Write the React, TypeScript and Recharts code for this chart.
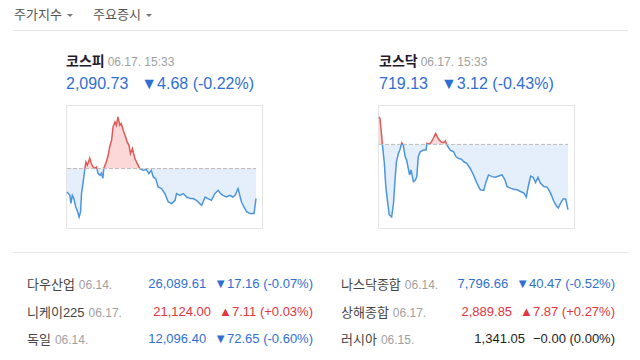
import { AreaChart, Area, XAxis, YAxis, ReferenceLine } from "recharts"

// 장중 차트 (분 단위, 09:00 = 0)
const kospiMinutes = [0, 6, 8, 11, 14, 18, 21, 25, 28, 30, 33, 37, 39, 42, 47, 50, 54, 57, 61, 64, 68, 71, 74, 76, 81, 85, 88, 92, 95, 99, 102, 105, 109, 112, 116, 121, 124, 128, 131, 135, 140, 145, 150, 157, 164, 169, 174, 178, 183, 188, 195, 202, 209, 216, 223, 226, 233, 240, 247, 254, 260, 267, 274, 278, 285, 291, 298, 305, 312, 317, 322, 329, 336, 342, 347, 353, 360, 365, 371, 378, 386, 390]
const kospiPrices = [2091.72, 2091.2, 2089.94, 2091.2, 2090.73, 2089.36, 2088.84, 2087.78, 2088.57, 2091.52, 2093.09, 2095.46, 2096.45, 2095.93, 2097.03, 2096.25, 2095.66, 2095.46, 2095.66, 2094.67, 2094.35, 2094.67, 2093.88, 2095.46, 2096.45, 2097.51, 2098.81, 2099.87, 2101.97, 2102.75, 2102.23, 2103.54, 2102.23, 2102.5, 2101.45, 2100.39, 2099.6, 2099.08, 2097.77, 2098.56, 2096.99, 2096.2, 2095.41, 2095.14, 2095.25, 2094.62, 2095.14, 2094.09, 2093.83, 2092.51, 2092.26, 2091.47, 2090.15, 2089.89, 2090.41, 2091.47, 2091.2, 2091.47, 2090.93, 2090.68, 2090.68, 2090.41, 2089.89, 2089.63, 2090.93, 2090.68, 2090.41, 2091.47, 2091.99, 2091.47, 2091.2, 2090.93, 2091.2, 2090.93, 2091.2, 2092.26, 2090.15, 2089.36, 2088.57, 2088.32, 2088.32, 2090.73]
const kospiPrevClose = 2095.41

const kosdaqMinutes = [0, 2, 5, 7, 11, 14, 18, 21, 26, 30, 33, 36, 40, 43, 47, 50, 54, 57, 61, 63, 66, 69, 71, 75, 78, 81, 85, 92, 97, 99, 104, 108, 112, 117, 123, 128, 133, 137, 140, 147, 154, 159, 164, 170, 175, 181, 188, 195, 202, 209, 216, 221, 226, 233, 240, 247, 254, 260, 264, 271, 278, 285, 292, 299, 304, 308, 313, 318, 323, 328, 333, 340, 347, 354, 361, 366, 370, 375, 380, 385, 390]
const kosdaqPrices = [723.56, 723.49, 722.77, 722.25, 721.35, 720.24, 719.45, 718.89, 718.78, 719.45, 720.55, 721.42, 721.82, 721.98, 722.33, 722.22, 721.66, 721.5, 721.03, 720.79, 721.03, 720.71, 720.47, 720.55, 720.71, 721.66, 721.9, 721.98, 721.98, 722.3, 722.26, 722.37, 722.54, 722.77, 722.49, 722.37, 722.33, 722.42, 722.22, 721.98, 721.9, 721.66, 721.58, 721.54, 721.42, 721.35, 721.11, 720.79, 720.4, 720.08, 720.05, 720.47, 720.79, 720.71, 720.68, 720.74, 720.79, 720.55, 720.24, 720.16, 720.11, 720.08, 720.0, 719.92, 719.73, 720.24, 720.74, 720.68, 720.43, 720.68, 720.4, 720.24, 720.21, 719.92, 719.52, 719.32, 719.21, 719.45, 719.64, 719.64, 719.13]
const kosdaqPrevClose = 722.25

// 해외 지수
const worldNames = ["다우산업", "니케이225", "독일", "나스닥종합", "상해종합", "러시아"]
const worldDates = ["06.14.", "06.17.", "06.14.", "06.14.", "06.17.", "06.15."]
const worldValues = ["26,089.61", "21,124.00", "12,096.40", "7,796.66", "2,889.85", "1,341.05"]
const worldChanges = ["▼17.16 (-0.07%)", "▲7.11 (+0.03%)", "▼72.65 (-0.60%)", "▼40.47 (-0.52%)", "▲7.87 (+0.27%)", "−0.00 (0.00%)"]

const BLUE = "#2f6fd3"
const RED = "#e3353d"
const FONT = '"Liberation Sans", Arial, "Noto Sans CJK KR", sans-serif'

function trendColor(change: string) {
  if (change.startsWith("▼")) return BLUE
  if (change.startsWith("▲")) return RED
  return "#222"
}

function MiniChart({ id, minutes, prices, prevClose, left }: { id: string; minutes: number[]; prices: number[]; prevClose: number; left: number }) {
  const data = minutes.map((t, i) => ({ t, v: prices[i] }))
  const max = Math.max(...prices)
  const min = Math.min(...prices)
  const off = (max - prevClose) / (max - min)

  return (
    <>
      <div style={{ position: "absolute", left, top: 105, width: 197, height: 124, border: "1px solid #e4e4e4", boxSizing: "border-box" }} />
      <div style={{ position: "absolute", left, top: 105 }}>
        <AreaChart width={197} height={124} data={data} margin={{ top: 12, right: 7, bottom: 12, left: 1 }}>
          <defs>
            <linearGradient id={`s-${id}`} x1="0" y1="0" x2="0" y2="1">
              <stop offset={off} stopColor="#de5b57" />
              <stop offset={off} stopColor="#4b95dd" />
            </linearGradient>
            <linearGradient id={`f-${id}`} x1="0" y1="0" x2="0" y2="1">
              <stop offset={off} stopColor="#fdd8d8" />
              <stop offset={off} stopColor="#e4effb" />
            </linearGradient>
          </defs>
          <XAxis dataKey="t" type="number" domain={[0, 390]} hide />
          <YAxis domain={[min, max]} hide />
          <Area
            type="linear"
            dataKey="v"
            baseValue={prevClose}
            stroke={`url(#s-${id})`}
            strokeWidth={1.5}
            fill={`url(#f-${id})`}
            fillOpacity={1}
            dot={false}
            activeDot={false}
            isAnimationActive={false}
          />
          <ReferenceLine y={prevClose} stroke="#bbbbbb" strokeDasharray="4 2" />
        </AreaChart>
      </div>
    </>
  )
}

function Header({ left, name, time, value, change }: { left: number; name: string; time: string; value: string; change: string }) {
  return (
    <>
      <div style={{ position: "absolute", left, top: 52, whiteSpace: "nowrap", lineHeight: "18px" }}>
        <span style={{ fontSize: 14, fontWeight: "bold", color: "#231a2c" }}>{name}</span>
        <span style={{ fontSize: 12, color: "#a0a0a0", marginLeft: 3 }}>{time}</span>
      </div>
      <div style={{ position: "absolute", left, top: 74, whiteSpace: "nowrap", fontSize: 16, lineHeight: "20px", color: BLUE }}>
        <span>{value}</span>
        <span style={{ marginLeft: 13 }}>{change}</span>
      </div>
    </>
  )
}

function Caret() {
  return (
    <span style={{ display: "inline-block", marginLeft: 5, verticalAlign: "middle", borderLeft: "3px solid transparent", borderRight: "3px solid transparent", borderTop: "3px solid #777" }} />
  )
}

export default function App() {
  const rowTops = [275, 302.5, 330]
  return (
    <div style={{ position: "absolute", left: 0, top: 0, width: 640, height: 360, background: "#fff", fontFamily: FONT, overflow: "hidden" }}>
      <div style={{ position: "absolute", left: 14, top: 6, fontSize: 13, color: "#555", lineHeight: "18px", whiteSpace: "nowrap" }}>
        주가지수<Caret />
      </div>
      <div style={{ position: "absolute", left: 93, top: 6, fontSize: 13, color: "#555", lineHeight: "18px", whiteSpace: "nowrap" }}>
        주요증시<Caret />
      </div>
      <div style={{ position: "absolute", left: 13, top: 30, width: 615, height: 1, background: "#e6e6e6" }} />

      <Header left={66} name="코스피" time="06.17. 15:33" value="2,090.73" change="▼4.68 (-0.22%)" />
      <Header left={379} name="코스닥" time="06.17. 15:33" value="719.13" change="▼3.12 (-0.43%)" />

      <MiniChart id="kospi" minutes={kospiMinutes} prices={kospiPrices} prevClose={kospiPrevClose} left={66} />
      <MiniChart id="kosdaq" minutes={kosdaqMinutes} prices={kosdaqPrices} prevClose={kosdaqPrevClose} left={378} />

      <div style={{ position: "absolute", left: 13, top: 252, width: 615, height: 1, background: "#e6e6e6" }} />

      {worldNames.map((name, i) => {
        const col = i < 3 ? 0 : 1
        const row = i % 3
        const nameLeft = col === 0 ? 27 : 341
        const rightEdge = col === 0 ? 313 : 615
        const color = trendColor(worldChanges[i])
        return (
          <div key={name}>
            <div style={{ position: "absolute", left: nameLeft, top: rowTops[row], lineHeight: "18px", whiteSpace: "nowrap" }}>
              <span style={{ fontSize: 13, color: "#444" }}>{name}</span>
              <span style={{ fontSize: 12, color: "#a0a0a0", marginLeft: 4 }}>{worldDates[i]}</span>
            </div>
            <div style={{ position: "absolute", right: 640 - rightEdge, top: rowTops[row], lineHeight: "18px", fontSize: 13, color, whiteSpace: "nowrap", textAlign: "right" }}>
              <span>{worldValues[i]}</span>
              <span style={{ marginLeft: 8 }}>{worldChanges[i]}</span>
            </div>
          </div>
        )
      })}
    </div>
  )
}
